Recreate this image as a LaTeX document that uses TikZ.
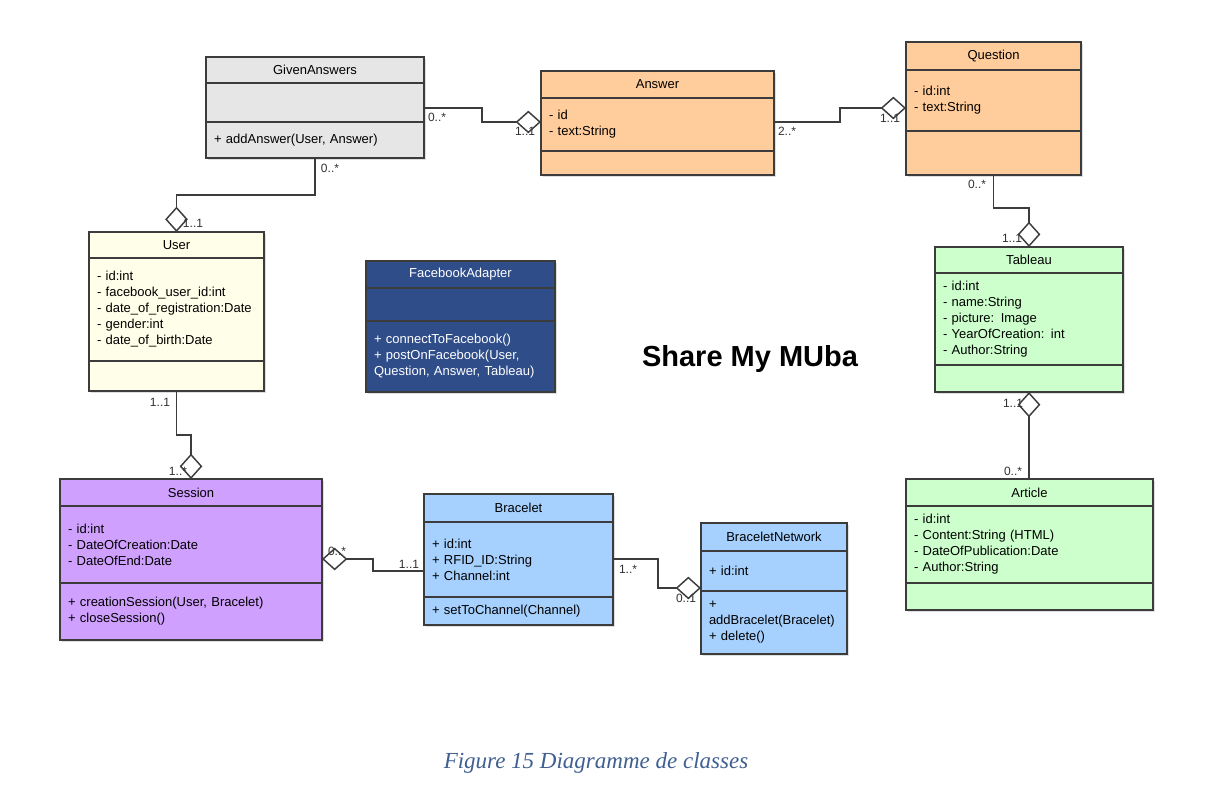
\documentclass[tikz,border=0pt]{standalone}
\usepackage{fontspec}
\setmainfont{Liberation Sans}
\newfontfamily\capfont{Liberation Serif}
\usetikzlibrary{positioning,arrows.meta,shadows}

\definecolor{edge}{RGB}{60,60,60}
\definecolor{graybox}{RGB}{230,230,230}
\definecolor{orangebox}{RGB}{255,204,155}
\definecolor{ivorybox}{RGB}{255,254,232}
\definecolor{navybox}{RGB}{47,77,137}
\definecolor{greenbox}{RGB}{204,255,204}
\definecolor{purplebox}{RGB}{208,160,255}
\definecolor{bluebox}{RGB}{166,209,255}
\definecolor{captionblue}{RGB}{63,95,145}

\begin{document}
\begin{tikzpicture}[x=0.75pt, y=-0.75pt,
    box/.style={draw=edge, line width=1.1pt, outer sep=0pt,
        font=\fontsize{9.75}{12}\selectfont,
        drop shadow={shadow xshift=1.2pt, shadow yshift=-1.2pt, opacity=0.25}},
    hd/.style 2 args={box, minimum width=#1, minimum height=#2, inner sep=0pt},
    cp/.style 2 args={box, text width=#1, minimum height=#2,
        inner xsep=6pt, inner ysep=0pt, align=left},
    mult/.style={font=\fontsize{9}{10}\selectfont, text=edge!80!black, inner sep=0pt},
    agg/.style={draw=edge, line width=1.1pt,
        -{Diamond[open, length=19pt, width=17pt]}}]

    \useasboundingbox (0,0) rectangle (1212,807);

    \node[hd={163.5pt}{19.5pt}, fill=graybox, anchor=north west] (ga) at (206,57) {GivenAnswers};
    \node[cp={151.5pt}{29.25pt}, fill=graybox, below=0pt of ga] (ga-attr) {};
    \node[cp={151.5pt}{27pt}, fill=graybox, below=0pt of ga-attr] (ga-meth) {+ addAnswer(User, Answer)};

    \node[hd={174.75pt}{20.25pt}, fill=orangebox, anchor=north west] (an) at (541,71) {Answer};
    \node[cp={162.75pt}{39.75pt}, fill=orangebox, below=0pt of an] (an-attr) {- id\\- text:String};
    \node[cp={162.75pt}{18pt}, fill=orangebox, below=0pt of an-attr] (an-meth) {};

    \node[hd={131.25pt}{21pt}, fill=orangebox, anchor=north west] (qu) at (906,42) {Question};
    \node[cp={119.25pt}{45.75pt}, fill=orangebox, below=0pt of qu] (qu-attr) {- id:int\\- text:String};
    \node[cp={119.25pt}{33pt}, fill=orangebox, below=0pt of qu-attr] (qu-meth) {};

    \node[hd={131.25pt}{19.5pt}, fill=ivorybox, anchor=north west] (us) at (89,232) {User};
    \node[cp={119.25pt}{77.25pt}, fill=ivorybox, below=0pt of us] (us-attr)
        {- id:int\\- facebook\_user\_id:int\\- date\_of\_registration:Date\\- gender:int\\- date\_of\_birth:Date};
    \node[cp={119.25pt}{22.5pt}, fill=ivorybox, below=0pt of us-attr] (us-meth) {};

    \node[hd={141.75pt}{20.25pt}, fill=navybox, text=white, anchor=north west] (fb) at (366,261) {FacebookAdapter};
    \node[cp={129.75pt}{24.75pt}, fill=navybox, below=0pt of fb] (fb-attr) {};
    \node[cp={129.75pt}{53.25pt}, fill=navybox, text=white, below=0pt of fb-attr] (fb-meth)
        {+ connectToFacebook()\\+ postOnFacebook(User,\\Question, Answer, Tableau)};

    \node[hd={141pt}{19.5pt}, fill=greenbox, anchor=north west] (tb) at (935,247) {Tableau};
    \node[cp={129pt}{69pt}, fill=greenbox, below=0pt of tb] (tb-attr)
        {- id:int\\- name:String\\- picture: Image\\- YearOfCreation: int\\- Author:String};
    \node[cp={129pt}{20.25pt}, fill=greenbox, below=0pt of tb-attr] (tb-meth) {};

    \node[hd={196.5pt}{20.25pt}, fill=purplebox, anchor=north west] (se) at (60,479) {Session};
    \node[cp={184.5pt}{57.75pt}, fill=purplebox, below=0pt of se] (se-attr)
        {- id:int\\- DateOfCreation:Date\\- DateOfEnd:Date};
    \node[cp={184.5pt}{42.75pt}, fill=purplebox, below=0pt of se-attr] (se-meth)
        {+ creationSession(User, Bracelet)\\+ closeSession()};

    \node[hd={141.75pt}{21pt}, fill=bluebox, anchor=north west] (br) at (424,494) {Bracelet};
    \node[cp={129.75pt}{56.25pt}, fill=bluebox, below=0pt of br] (br-attr)
        {+ id:int\\+ RFID\_ID:String\\+ Channel:int};
    \node[cp={129.75pt}{21pt}, fill=bluebox, below=0pt of br-attr] (br-meth) {+ setToChannel(Channel)};

    \node[hd={109.5pt}{21pt}, fill=bluebox, anchor=north west] (bn) at (701,523) {BraceletNetwork};
    \node[cp={97.5pt}{30pt}, fill=bluebox, below=0pt of bn] (bn-attr) {+ id:int};
    \node[cp={97.5pt}{47.25pt}, fill=bluebox, below=0pt of bn-attr] (bn-meth)
        {+\\addBracelet(Bracelet)\\+ delete()};

    \node[hd={185.25pt}{20.25pt}, fill=greenbox, anchor=north west] (ar) at (906,479) {Article};
    \node[cp={173.25pt}{57.75pt}, fill=greenbox, below=0pt of ar] (ar-attr)
        {- id:int\\- Content:String (HTML)\\- DateOfPublication:Date\\- Author:String};
    \node[cp={173.25pt}{20.25pt}, fill=greenbox, below=0pt of ar-attr] (ar-meth) {};

    \node[font=\bfseries\fontsize{21.75}{24}\selectfont] (title) at (750,359) {Share My MUba};
    \node[font=\capfont\itshape\fontsize{17.25}{20}\selectfont, text=captionblue] (caption) at (596,763)
        {Figure 15 Diagramme de classes};

    \node[mult] (m-ga-an) at (437,117) {0..*};
    \node[mult] (m-an-ga) at (525,131) {1..1};
    \node[mult] (m-an-qu) at (787,131) {2..*};
    \node[mult] (m-qu-an) at (890,118) {1..1};
    \node[mult] (m-ga-us) at (330,168) {0..*};
    \node[mult] (m-us-ga) at (193,223) {1..1};
    \node[mult] (m-us-se) at (160,402) {1..1};
    \node[mult] (m-se-us) at (178,471) {1..*};
    \node[mult] (m-se-br) at (337,551) {0..*};
    \node[mult] (m-br-se) at (409,564) {1..1};
    \node[mult] (m-br-bn) at (628,569) {1..*};
    \node[mult] (m-bn-br) at (686,598) {0..1};
    \node[mult] (m-qu-tb) at (977,184) {0..*};
    \node[mult] (m-tb-qu) at (1012,238) {1..1};
    \node[mult] (m-tb-ar) at (1013,403) {1..1};
    \node[mult] (m-ar-tb) at (1013,471) {0..*};

    \draw[agg] (ga-attr.east |- 0,108) -| (482,115) |- (an-attr.west |- 0,122);
    \draw[agg] (an-attr.east |- 0,122) -| (840,115) |- (qu-attr.west |- 0,108);
    \draw[agg] (ga-meth.south) |- (250,195) -| (us.north);
    \draw[agg] (qu-meth.south) |- (1010,208) -| (tb.north);
    \draw[agg] (us-meth.south) |- (185,435) -| (se.north);
    \draw[agg] (br-attr.west |- 0,571) -| (373,565) |- (se-attr.east |- 0,559);
    \draw[agg] (br-attr.east |- 0,559) -| (658,575) |- (bn-attr.west |- 0,588);
    \draw[agg] (ar.north -| tb-meth.south) -- (tb-meth.south);
\end{tikzpicture}
\end{document}
